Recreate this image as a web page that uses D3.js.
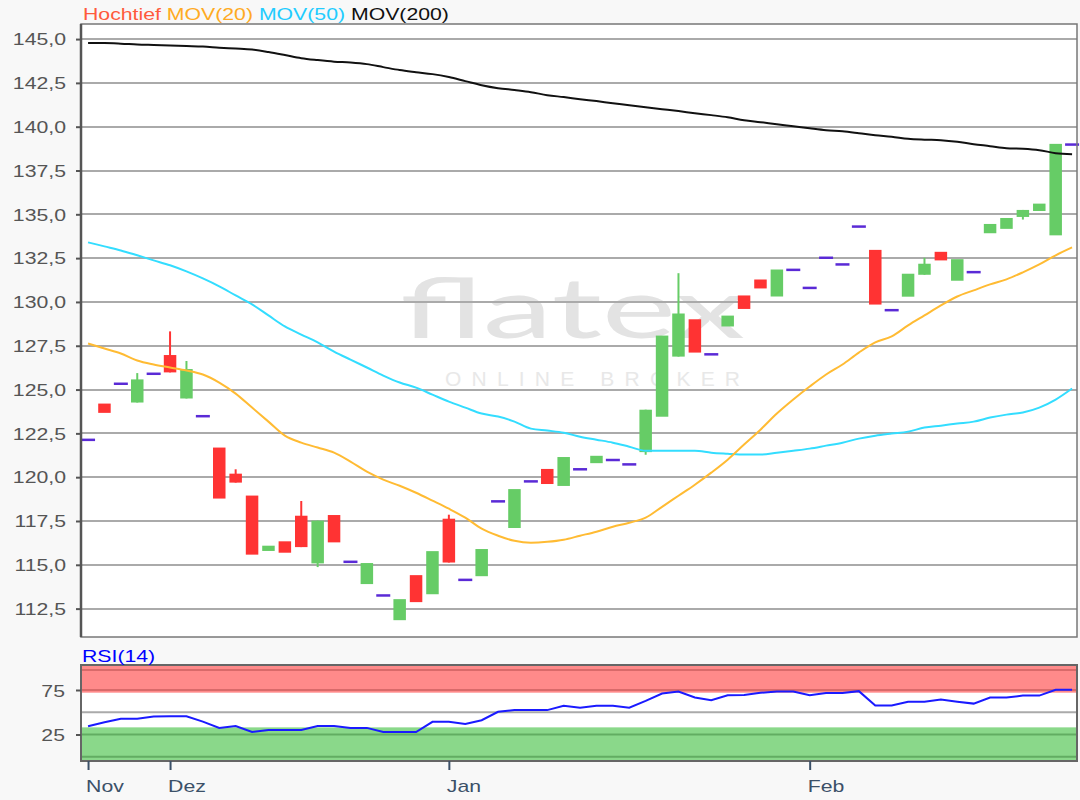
<!DOCTYPE html>
<html><head><meta charset="utf-8">
<script src="https://cdn.jsdelivr.net/npm/d3@7/dist/d3.min.js"></script>
<style>html,body{margin:0;padding:0;background:#f8f8f8;} svg{display:block}</style>
</head><body><svg id="c" width="1080" height="800"></svg>
<script>
// ---------- data ----------
const seriesName = "Hochtief";
const monthLabels = ["Nov", "Dez", "Jan", "Feb"];
const monthIndex = [0, 5, 22, 44];
const priceTicks = [112.5, 115, 117.5, 120, 122.5, 125, 127.5, 130, 132.5, 135, 137.5, 140, 142.5, 145];
const rsiTicks = [25, 75];

const open = [122.13,124.20,125.33,124.26,125.90,126.97,124.49,123.48,121.69,120.20,
 118.95,115.79,116.34,117.80,115.08,117.84,115.17,113.90,113.25,111.84,
 114.41,113.32,117.63,114.14,114.35,118.62,117.10,119.76,120.47,119.50,
 120.45,120.80,120.98,120.73,121.43,123.45,126.88,129.01,127.01,128.60,
 130.37,131.28,130.31,131.83,130.80,132.52,132.14,134.30,132.97,129.53,
 130.30,131.55,132.86,131.21,131.70,133.92,134.17,134.85,135.19,133.80,
 138.98];
const close = [122.13,123.67,125.33,125.58,125.90,125.98,126.17,123.48,118.78,119.69,
 115.58,116.09,115.69,116.01,117.52,116.28,115.17,115.10,113.25,113.04,
 112.87,115.78,115.13,114.14,115.90,118.62,119.32,119.76,119.61,121.15,
 120.45,121.22,120.98,120.73,123.85,128.08,129.34,127.11,127.01,129.22,
 129.60,130.77,131.85,131.83,130.80,132.52,132.14,134.30,129.85,129.53,
 131.61,132.18,132.37,132.44,131.70,134.45,134.79,135.25,135.61,139.02,
 138.98];
const high = [122.13,124.20,125.33,125.94,125.90,128.32,126.63,123.48,121.69,120.45,
 118.95,116.09,116.34,118.64,117.52,117.84,115.17,115.10,113.25,113.04,
 114.41,115.78,117.86,114.14,115.90,118.62,119.32,119.76,120.47,121.15,
 120.45,121.22,120.98,120.73,123.85,128.08,131.64,129.01,127.01,129.22,
 130.37,131.28,131.85,131.83,130.80,132.52,132.14,134.30,132.97,129.53,
 131.61,132.52,132.86,132.44,131.70,134.45,134.79,135.25,135.61,139.02,
 138.98];
const low = [122.13,123.67,125.33,124.26,125.90,125.98,124.49,123.48,118.78,119.69,
 115.58,115.79,115.69,116.01,114.87,116.28,115.17,113.90,113.25,111.84,
 112.87,113.32,115.13,114.14,114.35,118.62,117.10,119.76,119.61,119.50,
 120.45,120.80,120.98,120.73,121.28,123.45,126.88,127.11,127.01,128.60,
 129.60,130.77,130.31,131.83,130.80,132.52,132.14,134.30,129.85,129.53,
 130.30,131.55,132.37,131.21,131.70,133.92,134.17,134.70,135.19,133.80,
 138.98];

const mov20 = [127.63,127.34,127.06,126.66,126.43,126.26,126.09,125.86,125.40,124.77,
 123.97,123.17,122.37,121.97,121.69,121.40,120.89,120.31,119.86,119.51,
 119.11,118.66,118.20,117.69,117.06,116.66,116.37,116.26,116.31,116.43,
 116.66,116.89,117.17,117.40,117.69,118.31,118.94,119.57,120.26,121.00,
 121.86,122.71,123.63,124.43,125.17,125.86,126.43,127.11,127.69,128.03,
 128.66,129.23,129.80,130.31,130.66,131.00,131.29,131.69,132.14,132.66,
 133.11];
const mov50 = [133.40,133.17,132.94,132.66,132.37,132.09,131.74,131.34,130.89,130.37,
 129.86,129.23,128.60,128.14,127.69,127.17,126.71,126.26,125.80,125.40,
 125.11,124.71,124.31,123.97,123.63,123.46,123.17,122.77,122.66,122.54,
 122.31,122.14,121.97,121.74,121.51,121.51,121.51,121.51,121.40,121.34,
 121.29,121.29,121.40,121.51,121.63,121.80,121.97,122.20,122.37,122.49,
 122.60,122.83,122.94,123.06,123.17,123.40,123.57,123.69,123.97,124.43,
 125.06];
const mov200 = [144.77,144.77,144.74,144.69,144.66,144.63,144.60,144.57,144.51,144.46,
 144.40,144.26,144.09,143.91,143.80,143.71,143.66,143.57,143.40,143.23,
 143.11,143.00,142.83,142.60,142.37,142.20,142.09,141.97,141.80,141.69,
 141.57,141.46,141.34,141.23,141.11,141.00,140.89,140.77,140.66,140.54,
 140.37,140.26,140.14,140.03,139.91,139.80,139.74,139.63,139.51,139.43,
 139.31,139.26,139.23,139.14,139.00,138.89,138.77,138.74,138.66,138.49,
 138.43];
const rsi14 = [34.3,38.8,42.8,42.8,45.3,45.5,45.5,39.5,32.4,34.6,
 27.8,30.0,30.0,30.0,34.6,34.6,32.4,32.4,27.8,27.8,
 27.8,39.2,39.2,36.9,41.0,50.5,52.4,52.4,52.4,57.4,
 55.0,57.4,57.4,55.0,62.7,71.0,73.3,66.5,63.4,69.1,
 69.5,71.8,73.3,73.3,69.1,71.5,71.5,73.7,57.7,57.7,
 61.9,61.9,64.2,61.9,59.7,66.5,66.5,68.7,68.7,75.2,
 75.2];

// ---------- layout ----------
const L = 81, R = 1077, T = 24, B = 637;
const RT = 665, RB = 761;
const FONT = "'Liberation Sans', Arial, sans-serif";
const SX = 1.25;

const svg = d3.select('#c');
const idx = d3.range(close.length);
const x = d3.scaleLinear().domain([-0.43, 60.3]).range([L, R]);
const y = d3.scaleLinear().domain([110.88, 145.86]).range([B, T]);
const yr = d3.scaleLinear().domain([-4.8, 103.1]).range([RB, RT]);

svg.append('rect').attr('width', 1080).attr('height', 800).attr('fill', '#f8f8f8');

function label(g, txt, tx, ty, anchor, color) {
  return g.append('text').attr('transform', `translate(${tx},${ty}) scale(${SX},1)`)
    .attr('text-anchor', anchor).attr('font-family', FONT).attr('font-size', 17)
    .attr('fill', color).text(txt);
}

// ---------- main panel ----------
svg.append('rect').attr('x', L).attr('y', T).attr('width', R - L).attr('height', B - T).attr('fill', '#fff');

// watermark
svg.append('text').attr('x', 400).attr('y', 338).attr('font-family', "Lato, 'Open Sans', sans-serif")
  .attr('font-size', 84)
  .attr('fill', '#e3e3e3').attr('textLength', 345).attr('lengthAdjust', 'spacingAndGlyphs').text('flatex');
svg.append('text').attr('x', 445).attr('y', 386).attr('font-family', FONT).attr('font-size', 21)
  .attr('fill', '#e8e8e8').attr('textLength', 295).attr('lengthAdjust', 'spacing').text('ONLINE BROKER');

// gridlines
svg.append('g').selectAll('line').data(priceTicks).join('line')
  .attr('x1', L).attr('x2', R).attr('y1', d => Math.round(y(d))).attr('y2', d => Math.round(y(d)))
  .attr('stroke', '#aaaaaa').attr('stroke-width', 2);

// y axis
const ya = svg.append('g').attr('transform', `translate(${L},0)`)
  .call(d3.axisLeft(y).tickValues(priceTicks).tickSize(5).tickFormat(d => d.toFixed(1).replace('.', ',')));
ya.select('.domain').remove();
ya.selectAll('.tick line').attr('stroke', '#555').attr('stroke-width', 2);
ya.selectAll('.tick text').remove();
priceTicks.forEach(v => label(svg, v.toFixed(1).replace('.', ','), 66, y(v) + 6.3, 'end', '#555'));

// candles
const up = i => close[i] > open[i];
const flat = i => close[i] === open[i];
const cg = svg.append('g');
const bw = 12.5;
idx.forEach(i => {
  if (flat(i)) {
    cg.append('line').attr('x1', x(i) - 7).attr('x2', x(i) + 7).attr('y1', y(close[i])).attr('y2', y(close[i]))
      .attr('stroke', '#5a2ad6').attr('stroke-width', 2.5);
    return;
  }
  const col = up(i) ? '#66cc66' : '#ff3333';
  if (high[i] > Math.max(open[i], close[i]) || low[i] < Math.min(open[i], close[i])) {
    cg.append('line').attr('x1', x(i)).attr('x2', x(i)).attr('y1', y(high[i])).attr('y2', y(low[i]))
      .attr('stroke', col).attr('stroke-width', 2);
  }
  const top = y(Math.max(open[i], close[i])), bot = y(Math.min(open[i], close[i]));
  cg.append('rect').attr('x', x(i) - bw / 2).attr('y', top).attr('width', bw).attr('height', Math.max(1, bot - top))
    .attr('fill', col);
});

// moving averages
const line = d3.line().x((d, i) => x(i)).y(d => y(d)).curve(d3.curveMonotoneX);
[[mov50, '#33ddff'], [mov20, '#ffbb33'], [mov200, '#111111']].forEach(([s, c]) => {
  svg.append('path').attr('d', line(s)).attr('fill', 'none').attr('stroke', c).attr('stroke-width', 2);
});

// frame
svg.append('rect').attr('x', L).attr('y', T).attr('width', R - L).attr('height', B - T)
  .attr('fill', 'none').attr('stroke', '#777').attr('stroke-width', 1.5);
svg.append('line').attr('x1', L).attr('x2', L).attr('y1', T).attr('y2', B).attr('stroke', '#555').attr('stroke-width', 2.5);

// legend
const leg = svg.append('text').attr('transform', `translate(83,19.5) scale(${SX},1)`)
  .attr('font-family', FONT).attr('font-size', 17);
leg.append('tspan').attr('fill', '#ff5a3c').text(seriesName + ' ');
leg.append('tspan').attr('fill', '#ffaa22').text('MOV(20) ');
leg.append('tspan').attr('fill', '#22ccff').text('MOV(50) ');
leg.append('tspan').attr('fill', '#111').text('MOV(200)');

// ---------- RSI panel ----------
svg.append('rect').attr('x', L).attr('y', RT).attr('width', R - L).attr('height', RB - RT).attr('fill', '#fff');
svg.append('rect').attr('x', L).attr('y', RT).attr('width', R - L).attr('height', yr(72) - RT).attr('fill', '#ff8a8a');
[97.5, 75].forEach(v => svg.append('line').attr('x1', L).attr('x2', R).attr('y1', yr(v)).attr('y2', yr(v))
  .attr('stroke', '#d96a6a').attr('stroke-width', 2));
svg.append('rect').attr('x', L).attr('y', yr(33)).attr('width', R - L).attr('height', RB - yr(33)).attr('fill', '#8ad88a');
[25, 0].forEach(v => svg.append('line').attr('x1', L).attr('x2', R).attr('y1', yr(v)).attr('y2', yr(v))
  .attr('stroke', '#62ad62').attr('stroke-width', 2));
svg.append('line').attr('x1', L).attr('x2', R).attr('y1', yr(50)).attr('y2', yr(50)).attr('stroke', '#aaa').attr('stroke-width', 2);

const rline = d3.line().x((d, i) => x(i)).y(d => yr(d));
svg.append('path').attr('d', rline(rsi14)).attr('fill', 'none').attr('stroke', '#1a1aff').attr('stroke-width', 2);

svg.append('rect').attr('x', L).attr('y', RT).attr('width', R - L).attr('height', RB - RT)
  .attr('fill', 'none').attr('stroke', '#666').attr('stroke-width', 2);

const ra = svg.append('g').attr('transform', `translate(${L},0)`)
  .call(d3.axisLeft(yr).tickValues(rsiTicks).tickSize(5));
ra.select('.domain').remove();
ra.selectAll('.tick line').attr('stroke', '#555').attr('stroke-width', 2);
ra.selectAll('.tick text').remove();
rsiTicks.forEach(v => label(svg, String(v), 65, yr(v) + 7, 'end', '#555'));

label(svg, 'RSI(14)', 82, 662, 'start', '#0000ff');

// x axis
const xa = svg.append('g').attr('transform', `translate(0,${RB})`)
  .call(d3.axisBottom(x).tickValues(monthIndex).tickSize(9).tickFormat((d, i) => monthLabels[i]));
xa.select('.domain').remove();
xa.selectAll('.tick line').attr('stroke', '#3b5068').attr('stroke-width', 2);
xa.selectAll('.tick text').remove();
monthIndex.forEach((m, i) => label(svg, monthLabels[i], x(m) - 2, 792, 'start', '#3b5068'));
</script></body></html>
